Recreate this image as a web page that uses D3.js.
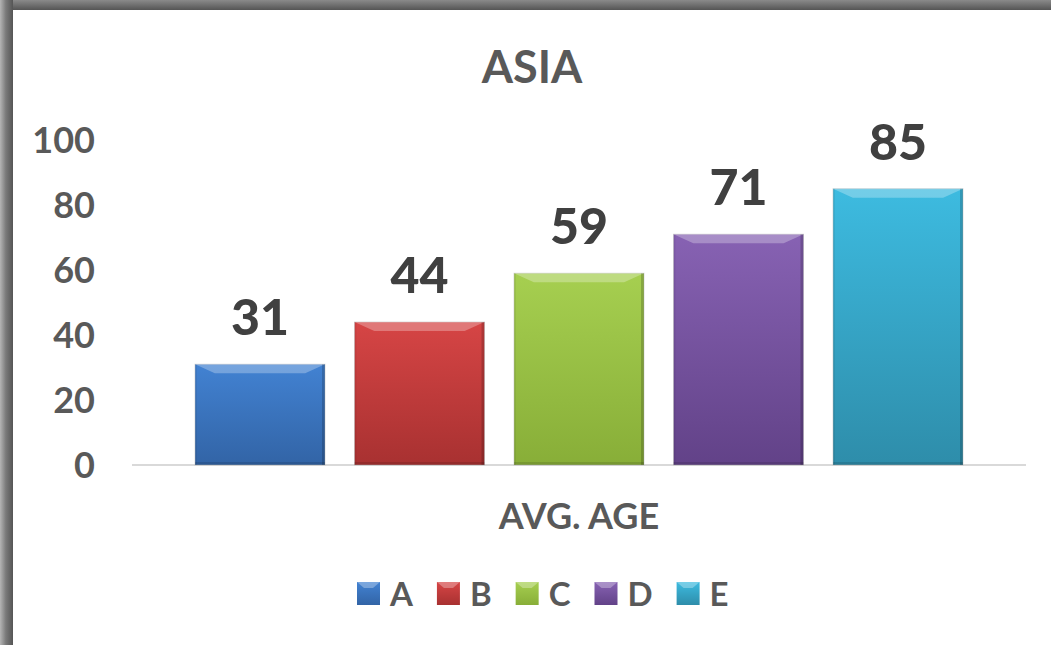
<!DOCTYPE html>
<html>
<head>
<meta charset="utf-8">
<script src="https://cdn.jsdelivr.net/npm/d3@7"></script>
<style>
  html, body { margin: 0; padding: 0; background: #fff; }
  svg { display: block; }
  text { font-family: Lato, "Open Sans", sans-serif; font-weight: bold; fill: #595959; }
  .valor { font-weight: 900; fill: #404040; }
</style>
</head>
<body>
<svg id="grafico" width="1051" height="645"></svg>
<script>
// datos
const titulo = 'ASIA';
const categorias = ['AVG. AGE'];
const series = ['A', 'B', 'C', 'D', 'E'];
const valores = [31, 44, 59, 71, 85];
const ticks_y = [0, 20, 40, 60, 80, 100];
const colores_arriba = ['#4282d2', '#d64545', '#a6cf50', '#8762b3', '#3dbbe0'];
const colores_abajo  = ['#3264a6', '#a83131', '#88ae38', '#624288', '#2e8daa'];

const ancho = 1051, alto = 645;
const margen = { left: 132, right: 25, top: 140, bottom: 180 };

const svg = d3.select('#grafico');
const defs = svg.append('defs');

// marco gris arriba / izquierda
const gradTop = defs.append('linearGradient').attr('id', 'marco_top')
    .attr('x1', 0).attr('y1', 0).attr('x2', 0).attr('y2', 1);
gradTop.append('stop').attr('offset', '0%').attr('stop-color', '#8a8a8a');
gradTop.append('stop').attr('offset', '100%').attr('stop-color', '#555');
const gradLeft = defs.append('linearGradient').attr('id', 'marco_left')
    .attr('x1', 0).attr('y1', 0).attr('x2', 1).attr('y2', 0);
gradLeft.append('stop').attr('offset', '0%').attr('stop-color', '#b5b5b5');
gradLeft.append('stop').attr('offset', '45%').attr('stop-color', '#7a7a7a');
gradLeft.append('stop').attr('offset', '100%').attr('stop-color', '#555');

svg.append('rect').attr('x', 0).attr('y', 0).attr('width', ancho).attr('height', 10)
    .attr('fill', 'url(#marco_top)');
svg.append('rect').attr('x', 0).attr('y', 0).attr('width', 13).attr('height', alto)
    .attr('fill', 'url(#marco_left)');

// gradientes de las barras
series.forEach((s, i) => {
    const g = defs.append('linearGradient').attr('id', 'grad_' + s)
        .attr('x1', 0).attr('y1', 0).attr('x2', 0).attr('y2', 1);
    g.append('stop').attr('offset', '0%').attr('stop-color', colores_arriba[i]);
    g.append('stop').attr('offset', '100%').attr('stop-color', colores_abajo[i]);
});

// escalas
const escalaY = d3.scaleLinear()
    .domain([0, 100])
    .range([465, 140]);

const x0 = d3.scaleBand()
    .domain(categorias)
    .range([margen.left, ancho - margen.right]);

const x1 = d3.scaleBand()
    .domain(series)
    .range([0, x0.bandwidth()])
    .paddingInner(0.185)
    .paddingOuter(0.395);

// titulo
svg.append('text')
    .attr('x', 532).attr('y', 83)
    .attr('text-anchor', 'middle')
    .style('font-size', '45px')
    .text(titulo);

// eje Y (solo etiquetas)
svg.append('g').selectAll('text')
    .data(ticks_y)
    .join('text')
    .attr('x', 95)
    .attr('y', d => escalaY(d))
    .attr('dy', '0.36em')
    .attr('text-anchor', 'end')
    .style('font-size', '36px')
    .text(d => d);

// linea base
svg.append('line')
    .attr('x1', x0.range()[0]).attr('x2', x0.range()[1])
    .attr('y1', escalaY(0)).attr('y2', escalaY(0))
    .attr('stroke', '#d9d9d9').attr('stroke-width', 2);

// barras
const grupo = svg.append('g')
    .attr('transform', `translate(${x0(categorias[0])},0)`);

const barras = grupo.selectAll('.barra')
    .data(series.map((s, i) => ({ serie: s, valor: valores[i], i: i })))
    .join('g')
    .attr('class', 'barra')
    .attr('transform', d => `translate(${x1(d.serie)},${escalaY(d.valor)})`);

const bw = x1.bandwidth();
const bisel = 9;

barras.append('rect')
    .attr('width', bw)
    .attr('height', d => escalaY(0) - escalaY(d.valor))
    .attr('fill', d => `url(#grad_${d.serie})`)
    .attr('stroke', '#bbb').attr('stroke-opacity', 0.5).attr('stroke-width', 1);

// bisel arriba (mas claro)
barras.append('path')
    .attr('d', `M0,0 L${bw},0 L${bw - bisel * 2.2},${bisel} L${bisel * 2.2},${bisel} Z`)
    .attr('fill', '#fff').attr('opacity', 0.28);
// bordes laterales (mas oscuros)
barras.append('rect')
    .attr('x', bw - 3).attr('width', 3)
    .attr('height', d => escalaY(0) - escalaY(d.valor))
    .attr('fill', '#000').attr('opacity', 0.18);
barras.append('rect')
    .attr('x', 0).attr('width', 2)
    .attr('height', d => escalaY(0) - escalaY(d.valor))
    .attr('fill', '#000').attr('opacity', 0.06);
barras.append('rect')
    .attr('y', d => escalaY(0) - escalaY(d.valor) - 3)
    .attr('width', bw).attr('height', 3)
    .attr('fill', '#000').attr('opacity', 0.12);

// etiquetas de valor
barras.append('text')
    .attr('class', 'valor')
    .attr('x', bw / 2)
    .attr('y', -29)
    .attr('text-anchor', 'middle')
    .style('font-size', '50px')
    .text(d => d.valor);

// etiqueta de categoria
svg.append('text')
    .attr('x', x0(categorias[0]) + x0.bandwidth() / 2)
    .attr('y', 529)
    .attr('text-anchor', 'middle')
    .style('font-size', '36px')
    .text(categorias[0]);

// leyenda
const leyenda = svg.append('g').attr('transform', 'translate(0,582)');
let posX = 357;
series.forEach((s, i) => {
    const item = leyenda.append('g').attr('transform', `translate(${posX},0)`);
    item.append('rect')
        .attr('width', 23).attr('height', 23)
        .attr('fill', `url(#grad_${s})`);
    item.append('path')
        .attr('d', 'M0,0 L23,0 L16,6 L7,6 Z')
        .attr('fill', '#fff').attr('opacity', 0.3);
    const t = item.append('text')
        .attr('x', 33).attr('y', 24)
        .style('font-size', '33px')
        .text(s);
    posX += 33 + t.node().getComputedTextLength() + 24;
});
</script>
</body>
</html>
